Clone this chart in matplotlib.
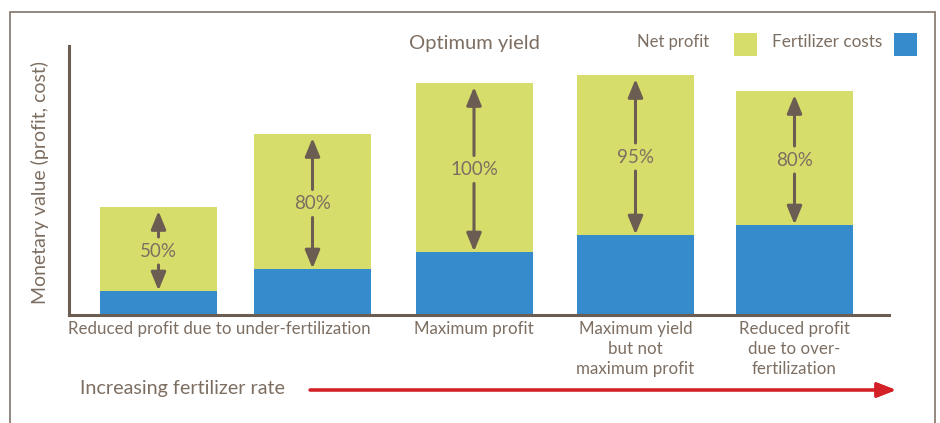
import matplotlib.pyplot as plt
from matplotlib.patches import Rectangle

plt.rcParams['font.family'] = ['Lato', 'DejaVu Sans']

categories = ["Reduced profit due to under-fertilization", "", "Maximum profit",
              "Maximum yield\nbut not\nmaximum profit",
              "Reduced profit\ndue to over-\nfertilization"]
fertilizer_costs = [24, 46, 63, 80, 90]
net_profit = [84, 135, 169, 160, 134]
pct_labels = ["50%", "80%", "100%", "95%", "80%"]

GREEN = '#d7dd6b'
BLUE = '#368bcc'
BROWN = '#6b5d52'
TEXT = '#7d6e62'
RED = '#d42027'

fig = plt.figure(figsize=(9.4, 4.23), dpi=100)
W, H = 940, 423

# outer frame
fig.patches.append(Rectangle((10 / W, -0.1), 925 / W, 1.1 - 12 / H, transform=fig.transFigure,
                             fill=False, edgecolor='#8a7f75', linewidth=1.3))

ax = fig.add_axes([69 / W, (H - 315) / H, 820 / W, 269 / H])
x = [89.5, 243.5, 405, 566.5, 725.5]
width = 117
ax.bar(x, fertilizer_costs, width, color=BLUE)
ax.bar(x, net_profit, width, bottom=fertilizer_costs, color=GREEN)
ax.set_xlim(0, 820)
ax.set_ylim(0, 269)

for s in ['top', 'right']:
    ax.spines[s].set_visible(False)
for s in ['left', 'bottom']:
    ax.spines[s].set_color(BROWN)
    ax.spines[s].set_linewidth(2.2)
ax.set_yticks([])
ax.set_xticks([])

# tick labels
label_x = [150, None, x[2], x[3], x[4]]
for i, lab in enumerate(categories):
    if lab:
        ax.text(label_x[i], -6, lab, ha='center', va='top', fontsize=12.2,
                color=TEXT, linespacing=1.3)

# double arrows with percentage labels
for i in range(len(x)):
    lo = fertilizer_costs[i]
    hi = fertilizer_costs[i] + net_profit[i]
    mid = (lo + hi) / 2
    ax.text(x[i], mid - 2, pct_labels[i], ha='center', va='center', fontsize=13.5, color=TEXT)
    props = dict(arrowstyle='-|>,head_length=1.1,head_width=0.45', color=BROWN, lw=2.2,
                 shrinkA=0, shrinkB=0)
    ax.annotate('', xy=(x[i], hi - 4), xytext=(x[i], mid + 12), arrowprops=props)
    ax.annotate('', xy=(x[i], lo + 0.5), xytext=(x[i], mid - 16), arrowprops=props)

fig.text(40 / W, 1 - 182 / H, 'Monetary value (profit, cost)', rotation=90, ha='center',
         va='center', fontsize=14, color=TEXT)

# top texts and legend
fig.text(474 / W, 1 - 44 / H, 'Optimum yield', ha='center', va='center', fontsize=14.5, color=TEXT)
fig.text(673 / W, 1 - 42 / H, 'Net profit', ha='center', va='center', fontsize=12, color=TEXT)
fig.patches.append(Rectangle((734 / W, 1 - 56 / H), 23 / W, 23 / H, transform=fig.transFigure,
                             facecolor=GREEN, edgecolor='none'))
fig.text(827 / W, 1 - 42 / H, 'Fertilizer costs', ha='center', va='center', fontsize=12.4, color=TEXT)
fig.patches.append(Rectangle((894 / W, 1 - 56 / H), 23 / W, 23 / H, transform=fig.transFigure,
                             facecolor=BLUE, edgecolor='none'))

# bottom arrow
fig.text(80 / W, 1 - 388 / H, 'Increasing fertilizer rate', ha='left', va='center',
         fontsize=14.2, color=TEXT)
fig.add_artist(plt.annotate('', xy=(896 / W, 1 - 390 / H), xytext=(310 / W, 1 - 390 / H),
                            xycoords='figure fraction', textcoords='figure fraction',
                            arrowprops=dict(arrowstyle='-|>,head_length=1.15,head_width=0.45',
                                            color=RED, lw=2.2, shrinkA=0, shrinkB=0)))

fig.savefig('out.png', dpi=100)
